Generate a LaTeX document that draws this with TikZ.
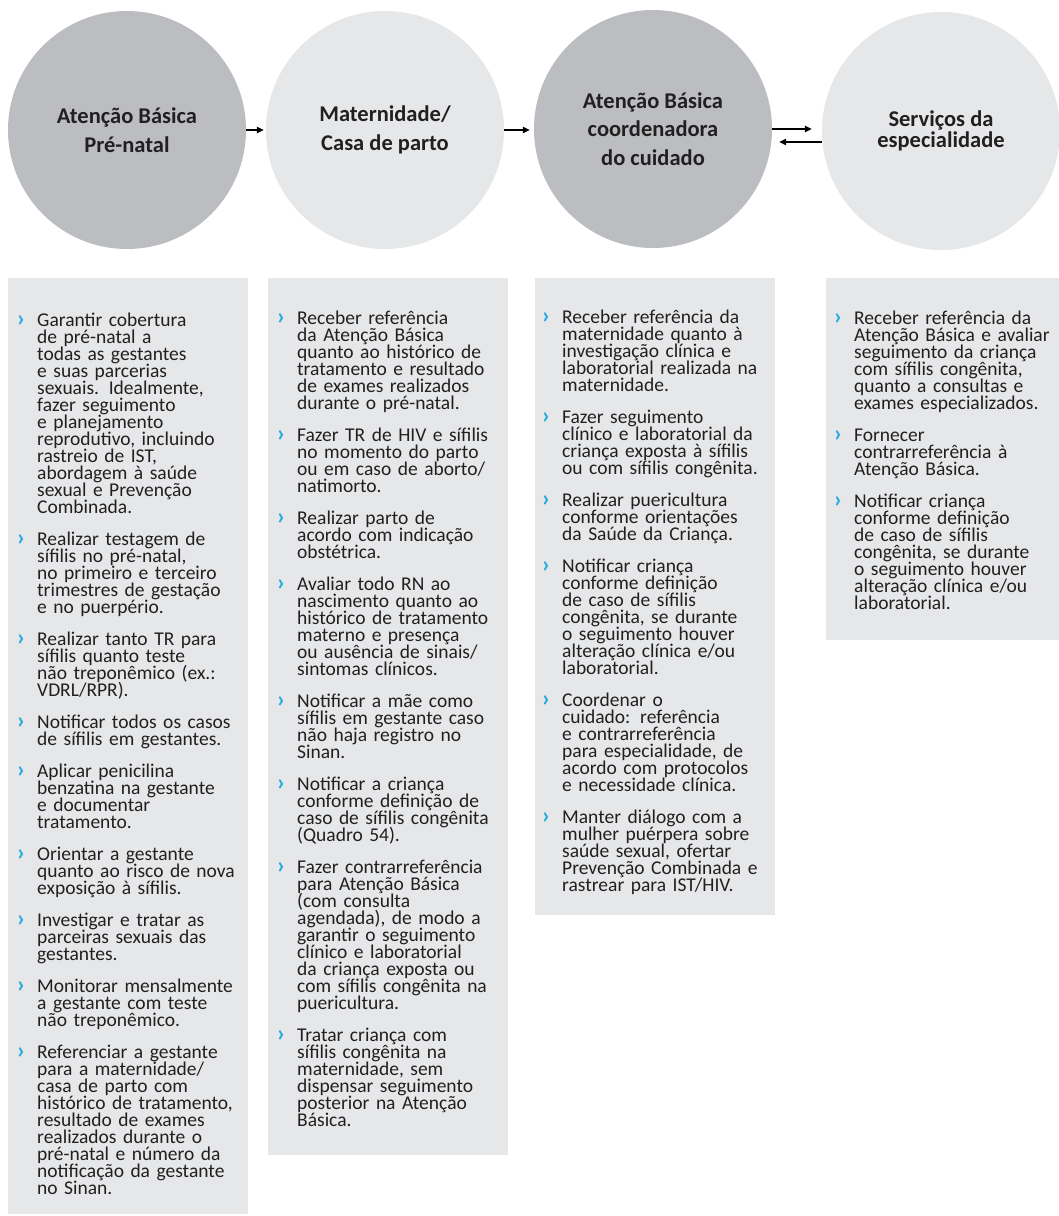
\documentclass[tikz,border=0pt]{standalone}
\usepackage{fontspec}
\setmainfont{Carlito}
\usetikzlibrary{arrows.meta,positioning}

\definecolor{darkdisc}{HTML}{BCBDC0}
\definecolor{lightdisc}{HTML}{E6E7E8}
\definecolor{chev}{HTML}{27AAE1}
\definecolor{ink}{HTML}{231F20}

\newcommand\itemfont{\fontsize{19.5}{17}\selectfont\lineskiplimit=-20pt\relax}
\newcommand\headfont{\bfseries\fontsize{22.5}{28.5}\selectfont}
\newcommand\bl{\leavevmode\llap{\textcolor{chev}{\bfseries\fontsize{24}{17}\selectfont ›}\hspace{12pt}}}

\tikzset{
  disc/.style={circle, minimum size=238, inner sep=0, align=center, font=\headfont, text=ink},
  panel/.style={fill=lightdisc, anchor=north west, inner sep=0, minimum width=240},
  items/.style={anchor=base west, inner sep=0, text width=215pt, align=left, font=\itemfont, text=ink},
  flow/.style={-{Triangle[length=7pt,width=6.5pt]}, line width=1.3pt}
}

\begin{document}
\begin{tikzpicture}[x=1pt, y=-1pt]
  \useasboundingbox (0,0) rectangle (1059,1216);
  % the four services
  \node[disc, fill=darkdisc] (pre) at (127,130) {Atenção Básica\\Pré-natal};
  \node[disc, fill=lightdisc] (mat) at (385,130) {Maternidade/\\Casa de parto};
  \node[disc, fill=darkdisc] (coord) at (653,129) {Atenção Básica\\coordenadora\\do cuidado};
  \node[disc, fill=lightdisc, font={\bfseries\fontsize{22.5}{21}\selectfont}] (esp) at (941,131) {Serviços da\\especialidade};

  \draw[flow, shorten >=2pt] (pre.east) -- (pre.east -| mat.west);
  \draw[flow, shorten >=4pt] (mat.east) -- (mat.east -| coord.west);
  \draw[flow] (coord.east) -- ([xshift=-10pt]coord.east -| esp.west);
  \draw[flow] ([yshift=-11pt]esp.west) -- ([xshift=7pt, yshift=-11pt]esp.west -| coord.east);

  % columns
  \node[panel, minimum height=936] (p1) at (8,278) {};
  \node[panel, minimum height=877] (p2) at (268,278) {};
  \node[panel, minimum height=637] (p3) at (535,278) {};
  \node[panel, minimum height=362, minimum width=233] (p4) at (826,278) {};

  \node[items] (t1) at (37,326) {%
    \bl Garantir cobertura\\ de pré-natal a\\ todas as gestantes\\ e suas parcerias\\ sexuais. Idealmente,\\ fazer seguimento\\ e planejamento\\ reprodutivo, incluindo\\ rastreio de IST,\\ abordagem à saúde\\ sexual e Prevenção\\ Combinada.\\[15pt]
    \bl Realizar testagem de\\ sífilis no pré-natal,\\ no primeiro e terceiro\\ trimestres de gestação\\ e no puerpério.\\[15pt]
    \bl Realizar tanto TR para\\ sífilis quanto teste\\ não treponêmico (ex.:\\ VDRL/RPR).\\[15pt]
    \bl Notificar todos os casos\\ de sífilis em gestantes.\\[15pt]
    \bl Aplicar penicilina\\ benzatina na gestante\\ e documentar\\ tratamento.\\[15pt]
    \bl Orientar a gestante\\ quanto ao risco de nova\\ exposição à sífilis.\\[15pt]
    \bl Investigar e tratar as\\ parceiras sexuais das\\ gestantes.\\[15pt]
    \bl Monitorar mensalmente\\ a gestante com teste\\ não treponêmico.\\[15pt]
    \bl Referenciar a gestante\\ para a maternidade/\\ casa de parto com\\ histórico de tratamento,\\ resultado de exames\\ realizados durante o\\ pré-natal e número da\\ notificação da gestante\\ no Sinan.};

  \node[items] (t2) at (297,324) {%
    \bl Receber referência\\ da Atenção Básica\\ quanto ao histórico de\\ tratamento e resultado\\ de exames realizados\\ durante o pré-natal.\\[15pt]
    \bl Fazer TR de HIV e sífilis\\ no momento do parto\\ ou em caso de aborto/\\ natimorto.\\[15pt]
    \bl Realizar parto de\\ acordo com indicação\\ obstétrica.\\[15pt]
    \bl Avaliar todo RN ao\\ nascimento quanto ao\\ histórico de tratamento\\ materno e presença\\ ou ausência de sinais/\\ sintomas clínicos.\\[15pt]
    \bl Notificar a mãe como\\ sífilis em gestante caso\\ não haja registro no\\ Sinan.\\[15pt]
    \bl Notificar a criança\\ conforme definição de\\ caso de sífilis congênita\\ (Quadro 54).\\[15pt]
    \bl Fazer contrarreferência\\ para Atenção Básica\\ (com consulta\\ agendada), de modo a\\ garantir o seguimento\\ clínico e laboratorial\\ da criança exposta ou\\ com sífilis congênita na\\ puericultura.\\[15pt]
    \bl Tratar criança com\\ sífilis congênita na\\ maternidade, sem\\ dispensar seguimento\\ posterior na Atenção\\ Básica.};

  \node[items] (t3) at (562,323) {%
    \bl Receber referência da\\ maternidade quanto à\\ investigação clínica e\\ laboratorial realizada na\\ maternidade.\\[15pt]
    \bl Fazer seguimento\\ clínico e laboratorial da\\ criança exposta à sífilis\\ ou com sífilis congênita.\\[15pt]
    \bl Realizar puericultura\\ conforme orientações\\ da Saúde da Criança.\\[15pt]
    \bl Notificar criança\\ conforme definição\\ de caso de sífilis\\ congênita, se durante\\ o seguimento houver\\ alteração clínica e/ou\\ laboratorial.\\[15pt]
    \bl Coordenar o\\ cuidado: referência\\ e contrarreferência\\ para especialidade, de\\ acordo com protocolos\\ e necessidade clínica.\\[15pt]
    \bl Manter diálogo com a\\ mulher puérpera sobre\\ saúde sexual, ofertar\\ Prevenção Combinada e\\ rastrear para IST/HIV.};

  \node[items] (t4) at (854,324) {%
    \bl Receber referência da\\ Atenção Básica e avaliar\\ seguimento da criança\\ com sífilis congênita,\\ quanto a consultas e\\ exames especializados.\\[15pt]
    \bl Fornecer\\ contrarreferência à\\ Atenção Básica.\\[15pt]
    \bl Notificar criança\\ conforme definição\\ de caso de sífilis\\ congênita, se durante\\ o seguimento houver\\ alteração clínica e/ou\\ laboratorial.};
\end{tikzpicture}
\end{document}
